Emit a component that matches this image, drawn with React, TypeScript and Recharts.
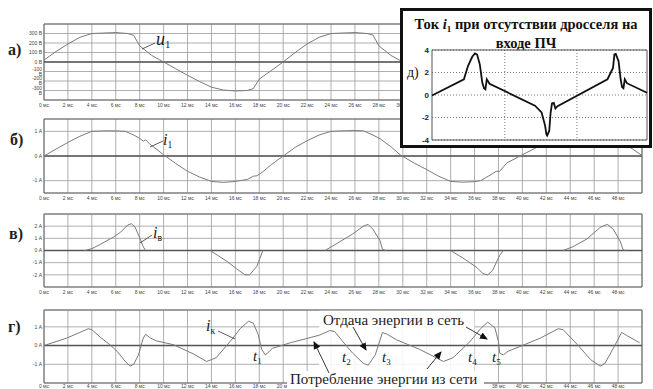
import React from "react";
import { LineChart, Line, XAxis, YAxis, CartesianGrid, ReferenceLine, ReferenceArea } from "recharts";

// time axis (ms)
const timeTicks = [0, 2, 4, 6, 8, 10, 12, 14, 16, 18, 20, 22, 24, 26, 28, 30, 32, 34, 36, 38, 40, 42, 44, 46, 48];

// а) u1, V
const uT = [0, 1, 2, 3, 4, 5, 6, 7, 7.5, 8, 9, 10, 11, 12, 13, 14, 15, 16, 17, 17.5, 18, 19, 20, 21, 22, 23, 24, 25, 26, 27, 27.5, 28, 29, 30, 31, 32, 33, 34, 35, 36, 37, 37.5, 38, 39, 40, 41, 42, 43, 44, 45, 46, 47, 47.5, 48, 49, 50];
const uV = [20, 110, 190, 260, 300, 305, 310, 300, 280, 170, 70, 0, -70, -140, -205, -265, -295, -305, -300, -280, -180, -90, 0, 100, 190, 260, 300, 305, 310, 300, 285, 170, 70, 0, -70, -140, -205, -265, -295, -305, -300, -280, -180, -90, 0, 100, 190, 260, 300, 305, 310, 300, 285, 170, 70, 0];
const uTicks = [-300, -200, -100, 0, 100, 200, 300];

// б) i1, A
const iT = [0, 1, 2, 3, 4, 5, 6, 6.8, 7.5, 8, 8.3, 8.5, 8.8, 9.2, 10, 11, 12, 13, 14, 15, 16, 17, 17.5, 17.8, 18.3, 19, 20, 21, 22, 23, 24, 25, 26, 26.7, 27.5, 28.1, 29, 29.8, 31, 32, 33, 34, 35, 36, 36.5, 37.5, 37.8, 38.1, 38.7, 39.8, 41, 42, 43, 44, 45, 46, 46.8, 47.5, 48, 49, 50];
const iV = [0, 0.28, 0.55, 0.8, 1.0, 1.02, 1.02, 1.0, 0.85, 0.72, 0.6, 0.66, 0.5, 0.35, 0.05, -0.3, -0.62, -0.85, -1.03, -1.07, -1.03, -0.95, -0.82, -0.8, -0.64, -0.35, 0, 0.35, 0.62, 0.85, 1.0, 1.02, 1.03, 1.02, 0.85, 0.7, 0.38, 0.04, -0.3, -0.55, -0.82, -1.03, -1.06, -1.04, -1.0, -0.72, -0.62, -0.62, -0.28, 0, 0.3, 0.55, 0.8, 1.0, 1.02, 1.02, 1.0, 0.85, 0.72, 0.35, 0.02];
const iTicks = [-1, 0, 1];

// в) iв, A (gaps = null)
const vT = [3.4, 4, 4.7, 5.8, 6.4, 7, 7.3, 7.6, 8, 8.3, 8.5, 9, 13.9, 15.3, 16.1, 16.8, 17.2, 17.8, 18.3, 19, 23.5, 24.7, 25.8, 26.7, 27.1, 27.5, 28.1, 28.3, 28.6, 29, 34, 35, 36.2, 36.7, 37.1, 37.5, 38.1, 38.4, 39, 43.4, 44.2, 45.4, 46.5, 47.1, 47.6, 48.2, 48.4, 48.6];
const vV = [0, 0.15, 0.5, 1.1, 1.5, 2.1, 2.2, 1.95, 1.05, 0.3, 0, null, 0, -0.9, -1.5, -2.0, -2.0, -1.3, 0, null, 0, 0.7, 1.35, 2.0, 2.15, 1.75, 0.8, 0.1, 0, null, 0, -0.6, -1.4, -1.9, -2.0, -1.65, -0.4, 0, null, 0, 0.3, 0.95, 1.9, 2.15, 1.75, 0.7, 0.1, 0];
const vTicks = [-2, -1, 0, 1, 2];

// г) iк, A
const kT = [0, 1.9, 3, 3.7, 4, 4.7, 5.5, 6.1, 6.8, 7.2, 7.5, 7.9, 8.3, 8.5, 8.9, 9.4, 10.8, 12.5, 13.6, 14.4, 15.8, 16.4, 17.1, 17.5, 17.9, 18.2, 18.5, 18.7, 19.1, 20.6, 22.4, 23, 23.9, 24.3, 25, 25.8, 26.7, 27.1, 27.7, 28.3, 28.7, 29.5, 31.4, 33.4, 34.2, 35.6, 36.5, 37.1, 37.7, 38, 38.1, 38.4, 38.8, 39.8, 41.5, 43, 43.4, 44.6, 45.7, 46.5, 46.9, 47.6, 48.3, 48.7, 49.8];
const kV = [0, 0.4, 0.7, 0.9, 0.85, 0.45, 0.05, -0.3, -0.85, -1.1, -1.0, -0.5, 0.4, 0.6, 0.4, 0.25, 0.05, -0.45, -0.85, -0.65, 0.4, 0.9, 1.3, 1.2, 0.6, -0.2, -0.5, -0.4, -0.15, 0.15, 0.45, 0.55, 0.8, 0.75, 0.2, -0.4, -0.95, -1.05, -0.5, 0.7, 0.6, 0.3, -0.2, -0.85, -0.65, 0.2, 0.9, 1.25, 0.95, 0.2, -0.4, -0.5, -0.3, -0.05, 0.4, 0.9, 0.85, 0.05, -0.75, -1.1, -0.95, -0.15, 0.7, 0.55, 0.15];
const kTicks = [-1, 0, 1];
// time labels hidden under the "Потребление энергии из сети" caption
const kCoveredTicks = [22, 24, 26, 28, 30, 32, 34, 36];

// д) inset: i1 without choke
const insT = [0, 4.6, 5.2, 5.8, 6.2, 6.5, 6.9, 7.25, 7.5, 7.7, 7.9, 8.3, 14.85, 15.8, 16.3, 16.5, 16.6, 16.9, 17.1, 17.3, 17.56, 17.8, 18.1, 25.3, 26.1, 26.3, 26.5, 26.9, 27.2, 27.4, 27.6, 27.8, 28.1, 31];
const insV = [-0.05, 1.4, 2.6, 3.4, 3.7, 3.6, 2.7, 1.1, 0.6, 0.5, 1.4, 1.0, -0.95, -1.55, -2.7, -3.5, -3.6, -3.2, -1.6, -0.75, -0.7, -1.2, -1.0, 1.4, 2.4, 3.6, 3.65, 3.0, 1.4, 0.7, 0.6, 1.4, 1.05, 0.2];
const insYTicks = [-4, -2, 0, 2, 4];
const insGridTicks = [10.5, 20.9];

const zip = (t: number[], v: (number | null)[]) => t.map((x, i) => ({ t: x, v: v[i] }));

const SERIF = '"Liberation Serif", "DejaVu Serif", serif';
const SANS = '"Liberation Sans", Arial, sans-serif';

type PanelProps = {
  top: number;
  plotH: number;
  data: { t: number; v: number | null }[];
  domain: [number, number];
  yTicks: number[];
  unit: string;
  band?: [number, number];
  compact?: boolean;
  hiddenTicks?: number[];
};

function Panel({ top, plotH, data, domain, yTicks, unit, band, compact, hiddenTicks }: PanelProps) {
  const hidden = hiddenTicks || [];
  return (
    <div style={{ position: "absolute", left: 0, top: top - 5 }}>
      <LineChart width={653} height={plotH + 17} data={data} margin={{ top: 5, right: 11, bottom: 0, left: 0 }}>
        <CartesianGrid stroke="#9a9a9a" strokeWidth={0.8} />
        {band && (
          <ReferenceArea x1={band[0]} x2={band[1]} y1={domain[0]} y2={domain[1]} fill="#ffffff" fillOpacity={0.85} stroke="none" />
        )}
        <XAxis
          type="number"
          dataKey="t"
          domain={[0, 50]}
          ticks={timeTicks}
          interval={0}
          tickFormatter={(v: number) => (hidden.includes(v) ? "" : `${v} мс`)}
          tick={{ fontSize: 5, fill: "#444", fontFamily: SANS }}
          axisLine={false}
          tickLine={false}
          tickSize={compact ? 1 : 2}
          tickMargin={compact ? 0 : 1}
          height={12}
          allowDataOverflow
        />
        <YAxis
          type="number"
          domain={domain}
          ticks={yTicks}
          interval={0}
          tickFormatter={(v: number) => `${v} ${unit}`}
          tick={{ fontSize: 5, fill: "#444", fontFamily: SANS }}
          axisLine={false}
          tickLine={false}
          tickSize={1}
          tickMargin={1}
          width={44}
          allowDataOverflow
        />
        <ReferenceArea x1={0} x2={50} y1={domain[0]} y2={domain[1]} fill="none" stroke="#666" strokeWidth={1} />
        <ReferenceLine y={0} stroke="#555" strokeWidth={1.6} />
        <Line type="linear" dataKey="v" stroke="#7a7a7a" strokeWidth={1} dot={false} isAnimationActive={false} connectNulls={false} />
      </LineChart>
    </div>
  );
}

function Sub({ x, y, main, sub, size = 15 }: { x: number; y: number; main: string; sub: string; size?: number }) {
  return (
    <text x={x} y={y} fontFamily={SERIF} fontStyle="italic" fontSize={size} fill="#222">
      {main}
      <tspan fontSize={size * 0.6} dy={3} fontStyle="normal">{sub}</tspan>
    </text>
  );
}

export default function App() {
  const insetData = zip(insT, insV);
  return (
    <div style={{ position: "absolute", left: 0, top: 0, width: 653, height: 389, overflow: "hidden", background: "#fff" }}>
      <Panel top={24} plotH={76} data={zip(uT, uV)} domain={[-400, 400]} yTicks={uTicks} unit="В" />
      <Panel top={119} plotH={74} data={zip(iT, iV)} domain={[-1.5, 1.5]} yTicks={iTicks} unit="А" />
      <Panel top={214} plotH={73} data={zip(vT, vV)} domain={[-3, 3]} yTicks={vTicks} unit="А" />
      <Panel top={310} plotH={73} data={zip(kT, kV)} domain={[-2, 1.9]} yTicks={kTicks} unit="А" band={[23, 36]} compact hiddenTicks={kCoveredTicks} />

      <svg width={653} height={389} style={{ position: "absolute", left: 0, top: 0, pointerEvents: "none" }}>
        <defs>
          <marker id="ah" markerWidth="8" markerHeight="8" refX="7" refY="4" orient="auto" markerUnits="userSpaceOnUse">
            <path d="M0,0.5 L8,4 L0,7.5 Z" fill="#111" />
          </marker>
        </defs>
        {/* panel letters */}
        <g fontFamily={SERIF} fontSize={16} fontWeight="bold" fill="#222">
          <text x={8} y={55}>а)</text>
          <text x={10} y={145}>б)</text>
          <text x={9} y={239}>в)</text>
          <text x={8} y={332}>г)</text>
        </g>
        {/* curve labels */}
        <g stroke="#333" strokeWidth={0.8}>
          <line x1={142} y1={49} x2={155} y2={43} />
          <line x1={150} y1={147} x2={163} y2={141} />
          <line x1={140} y1={243} x2={152} y2={235} />
          <line x1={218} y1={331} x2={235} y2={339} />
        </g>
        <Sub x={156} y={45} main="u" sub="1" size={18} />
        <Sub x={163} y={145} main="i" sub="1" size={16} />
        <Sub x={153} y={238} main="i" sub="в" size={16} />
        <Sub x={206} y={331} main="i" sub="к" size={16} />
        <Sub x={253} y={361} main="t" sub="1" />
        <Sub x={342} y={362} main="t" sub="2" />
        <Sub x={382} y={362} main="t" sub="3" />
        <Sub x={468} y={362} main="t" sub="4" />
        <Sub x={492} y={362} main="t" sub="5" />
        {/* annotation texts */}
        <rect x={320} y={311} width={154} height={17} fill="#fff" />
        <text x={323} y={325} fontFamily={SERIF} fontSize={15} fill="#222">Отдача энергии в сеть</text>
        <rect x={287} y={371} width={197} height={18} fill="#fff" />
        <text x={290} y={384} fontFamily={SERIF} fontSize={15} fill="#222">Потребление энергии из сети</text>
        <g stroke="#222" strokeWidth={0.9} fill="none">
          <line x1={353} y1={327} x2={366} y2={350} markerEnd="url(#ah)" />
          <line x1={466} y1={327} x2={487} y2={339} markerEnd="url(#ah)" />
          <line x1={329} y1={373} x2={314} y2={342} markerEnd="url(#ah)" />
          <line x1={427} y1={369} x2={441} y2={352} markerEnd="url(#ah)" />
        </g>
      </svg>

      <div style={{ position: "absolute", left: 400, top: 8, width: 252, height: 140, border: "3px solid #111", boxSizing: "border-box", background: "#fff" }}>
        <div style={{ position: "absolute", left: 0, right: 0, top: 5, textAlign: "center", fontFamily: SERIF, fontWeight: "bold", fontSize: 14.5, lineHeight: "17px", color: "#111", whiteSpace: "nowrap" }}>
          Ток <i>i</i><span style={{ fontSize: 9, position: "relative", top: 3 }}>1</span> при отсутствии дросселя на
          <br />
          входе ПЧ
        </div>
        <div style={{ position: "absolute", left: 4, top: 54, fontFamily: SERIF, fontSize: 14, color: "#111" }}>д)</div>
        <div style={{ position: "absolute", left: 0, top: 0 }}>
          <LineChart width={246} height={134} data={insetData} margin={{ top: 39, right: 2, bottom: 5, left: 0 }}>
            <CartesianGrid stroke="#777" strokeDasharray="1 2" verticalValues={insGridTicks} horizontalValues={insYTicks} />
            <XAxis type="number" dataKey="t" domain={[0, 31]} ticks={insGridTicks} hide />
            <YAxis
              type="number"
              domain={[-4, 4]}
              ticks={insYTicks}
              interval={0}
              width={29}
              tick={{ fontSize: 8, fill: "#222", fontWeight: "bold", fontFamily: SANS }}
              axisLine={false}
              tickLine={false}
              tickSize={0}
              tickMargin={3}
            />
            <ReferenceArea x1={0} x2={31} y1={-4} y2={4} fill="none" stroke="#555" strokeWidth={1} />
            <Line type="linear" dataKey="v" stroke="#111" strokeWidth={1.8} dot={false} isAnimationActive={false} />
          </LineChart>
        </div>
      </div>
    </div>
  );
}
